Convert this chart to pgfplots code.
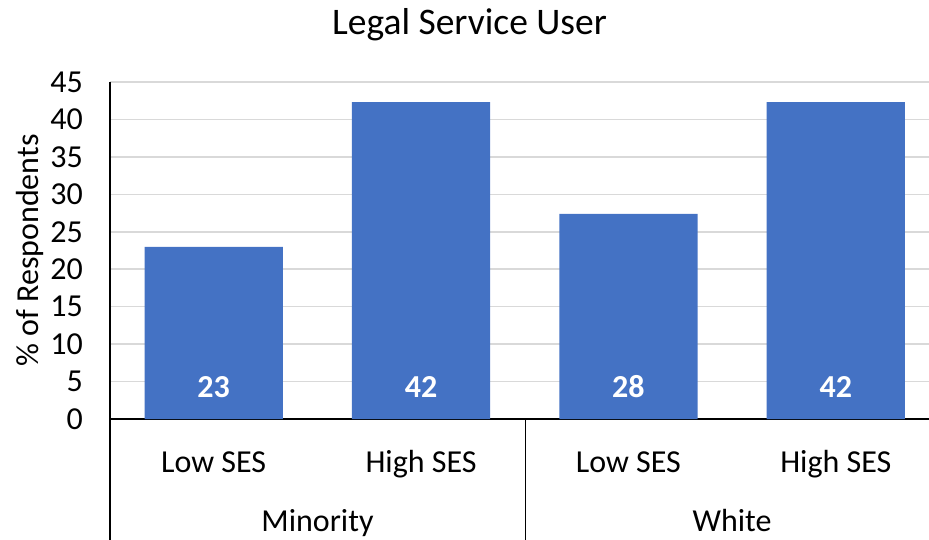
\documentclass[border=0pt]{standalone}
\usepackage{pgfplots}
\pgfplotsset{compat=1.18}
\usepackage{fontspec}
\setmainfont{Carlito}
\definecolor{barblue}{HTML}{4472C4}
\definecolor{gridgray}{HTML}{D9D9D9}
\begin{document}
\begin{tikzpicture}
\useasboundingbox (0,0) rectangle (929pt,539pt);
\clip (0,0) rectangle (929pt,539pt);
\begin{axis}[
  at={(110pt,120pt)}, anchor=south west,
  scale only axis, width=829.5pt, height=337pt,
  xmin=-0.5, xmax=3.5, ymin=0, ymax=45,
  ytick={0,5,...,45},
  xtick={0,1,2,3},
  xticklabels={Low SES, High SES, Low SES, High SES},
  axis x line*=bottom, axis y line*=left,
  axis line style={-, black, line width=1.5pt},
  major tick length=0pt,
  ymajorgrids, grid style={draw=gridgray, line width=1.5pt},
  /pgf/number format/assume math mode=true,
  ticklabel style={font=\fontsize{32}{38}\selectfont, inner sep=0pt},
  yticklabel style={anchor=east, xshift=-27pt},
  xticklabel style={anchor=base, yshift=-53pt},
  ylabel={\% of Respondents},
  every axis y label/.style={at={(axis description cs:0,0.5)}, rotate=90, anchor=center, yshift=80pt, font=\fontsize{32}{38}\selectfont},
  clip=false,
]
\addplot[ybar, bar width=0.667, fill=barblue, draw=none] coordinates {(0,23.0) (1,42.3) (2,27.4) (3,42.3)};
\addplot[draw=none, mark=none, nodes near coords, point meta=explicit symbolic,
  every node near coord/.append style={anchor=center, text=white, font=\fontsize{32}{38}\selectfont\bfseries, inner sep=0pt}]
  coordinates {(0,4.27)[23] (1,4.27)[42] (2,4.27)[28] (3,4.27)[42]};
\end{axis}
\node[font=\fontsize{37.5}{44}\selectfont, anchor=base] at (469.5pt,504pt) {Legal Service User};
\draw[black, line width=1.5pt] (110pt,120pt) -- (110pt,-5pt);
\draw[black, line width=1.5pt] (525.5pt,120pt) -- (525.5pt,-5pt);
\node[font=\fontsize{32}{38}\selectfont, anchor=base] at (317.5pt,8pt) {Minority};
\node[font=\fontsize{32}{38}\selectfont, anchor=base] at (732pt,8pt) {White};
\end{tikzpicture}
\end{document}
